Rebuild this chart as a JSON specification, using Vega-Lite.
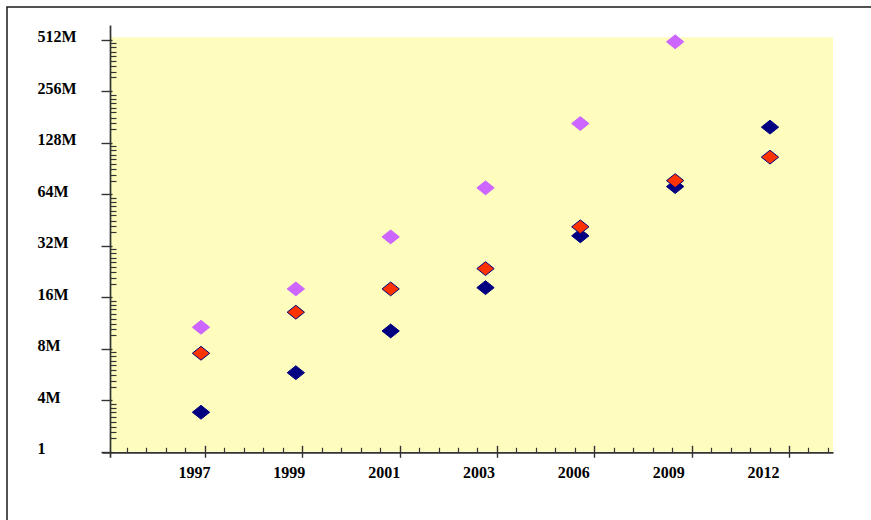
{
  "$schema": "https://vega.github.io/schema/vega-lite/v6.json",
  "width": 864,
  "height": 513,
  "autosize": {"type": "none"},
  "padding": {"left": 7, "top": 7, "right": 0, "bottom": 0},
  "background": "white",
  "config": {
    "view": {"stroke": "#1a1a1a", "strokeWidth": 1.5, "strokeDash": [864, 1377, 513], "fill": "white"},
    "axis": {
      "grid": false, "title": null, "zindex": 2,
      "labelFont": "Liberation Serif", "labelFontWeight": "bold", "labelFontSize": 16, "labelColor": "black",
      "tickColor": "#333333", "domainColor": "#333333", "domainWidth": 1.7, "tickWidth": 1.4,
      "labelOverlap": false, "labelBound": false, "labelFlush": false
    }
  },
  "datasets": {
    "points": [
      {"year": 1997, "series": "Series 3", "value": 3.40},
      {"year": 1999, "series": "Series 3", "value": 5.79},
      {"year": 2001, "series": "Series 3", "value": 10.15},
      {"year": 2003, "series": "Series 3", "value": 18.18},
      {"year": 2006, "series": "Series 3", "value": 36.5},
      {"year": 2009, "series": "Series 3", "value": 70.8},
      {"year": 2012, "series": "Series 3", "value": 157.5},
      {"year": 1997, "series": "Series 2", "value": 7.52},
      {"year": 1999, "series": "Series 2", "value": 13.06},
      {"year": 2001, "series": "Series 2", "value": 17.87},
      {"year": 2003, "series": "Series 2", "value": 23.48},
      {"year": 2006, "series": "Series 2", "value": 41.2},
      {"year": 2009, "series": "Series 2", "value": 76.7},
      {"year": 2012, "series": "Series 2", "value": 105.2},
      {"year": 1997, "series": "Series 1", "value": 10.67},
      {"year": 1999, "series": "Series 1", "value": 17.87},
      {"year": 2001, "series": "Series 1", "value": 35.98},
      {"year": 2003, "series": "Series 1", "value": 69.6},
      {"year": 2006, "series": "Series 1", "value": 165.3},
      {"year": 2009, "series": "Series 1", "value": 496.4}
    ]
  },
  "resolve": {"scale": {"x": "independent"}, "axis": {"x": "independent", "y": "independent"}},
  "layer": [
    {
      "data": {"values": [{}]},
      "mark": {"type": "rect", "fill": "#FEFDBD"},
      "encoding": {
        "x": {
          "datum": -0.976, "type": "quantitative",
          "scale": {"type": "linear", "domain": [-1.06, 6.452], "range": [94.7, 826], "nice": false, "zero": false},
          "axis": {"orient": "bottom", "offset": -67.7, "zindex": 2, "values": [0, 1, 2, 3, 4, 5, 6], "labels": false, "ticks": true, "tickSize": 5, "domain": true}
        },
        "x2": {"datum": 6.452},
        "y": {
          "datum": 2, "type": "quantitative",
          "scale": {"type": "log", "base": 2, "domain": [1.855, 622.3], "range": [450.3, 18], "nice": false},
          "axis": {
            "orient": "left", "offset": -103, "zindex": 2, "values": [2, 4, 8, 16, 32, 64, 128, 256, 512],
            "tickSize": 9, "domain": true, "labels": true,
            "labelExpr": "datum.value == 2 ? '1' : datum.value + 'M'",
            "labelAlign": "left", "labelPadding": 64, "labelOffset": -3, "labelBaseline": "middle"
          }
        },
        "y2": {"datum": 527}
      }
    },
    {
      "data": {"values": [{}]},
      "mark": {"type": "rect", "opacity": 0},
      "encoding": {
        "x": {
          "datum": -0.976, "type": "quantitative",
          "scale": {"type": "linear", "domain": [-1.06, 6.452], "range": [94.7, 826], "nice": false, "zero": false},
          "axis": {"orient": "bottom", "offset": -67.7, "zindex": 3, "values": [0, 1, 2, 3, 4, 5, 6], "labels": false, "ticks": true, "tickSize": -7, "domain": false}
        },
        "x2": {"datum": 6.452},
        "y": {
          "datum": 2, "type": "quantitative",
          "scale": {"type": "log", "base": 2, "domain": [1.855, 622.3], "range": [450.3, 18], "nice": false},
          "axis": {
            "orient": "left", "offset": -103, "zindex": 3,
            "values": [2.4, 2.6, 2.8, 3.0, 3.2, 3.4, 3.6, 3.8,
                       4.8, 5.2, 5.6, 6.0, 6.4, 6.8, 7.2, 7.6,
                       9.6, 10.4, 11.2, 12, 12.8, 13.6, 14.4, 15.2,
                       19.2, 20.8, 22.4, 24, 25.6, 27.2, 28.8, 30.4,
                       38.4, 41.6, 44.8, 48, 51.2, 54.4, 57.6, 60.8,
                       76.8, 83.2, 89.6, 96, 102.4, 108.8, 115.2, 121.6,
                       153.6, 166.4, 179.2, 192, 204.8, 217.6, 230.4, 243.2,
                       307.2, 332.8, 358.4, 384, 409.6, 435.2, 460.8, 486.4],
            "tickSize": -6, "tickWidth": 1.2, "labels": false, "domain": false
          }
        },
        "y2": {"datum": 527}
      }
    },
    {
      "data": {"values": [{}]},
      "mark": {"type": "rect", "opacity": 0},
      "encoding": {
        "x": {
          "datum": -0.976, "type": "quantitative",
          "scale": {"type": "linear", "domain": [-1.06, 6.452], "range": [94.7, 826], "nice": false, "zero": false},
          "axis": {
            "orient": "bottom", "offset": -67.7, "zindex": 3,
            "values": [-0.8, -0.6, -0.4, -0.2, 0.2, 0.4, 0.6, 0.8, 1.2, 1.4, 1.6, 1.8, 2.2, 2.4, 2.6, 2.8,
                       3.2, 3.4, 3.6, 3.8, 4.2, 4.4, 4.6, 4.8, 5.2, 5.4, 5.6, 5.8, 6.2, 6.4],
            "labels": false, "ticks": true, "tickSize": -5, "tickWidth": 1.2, "domain": false
          }
        },
        "x2": {"datum": 6.452},
        "y": {
          "datum": 2, "type": "quantitative",
          "scale": {"type": "log", "base": 2, "domain": [1.855, 622.3], "range": [450.3, 18], "nice": false},
          "axis": {"orient": "left", "offset": -103, "zindex": 3, "values": [2, 4, 8, 16, 32, 64, 128, 256, 512], "tickSize": -2, "labels": false, "domain": false}
        },
        "y2": {"datum": 527}
      }
    },
    {
      "data": {"name": "points"},
      "mark": {"type": "point", "shape": "M -1 0 L 0 -0.8 L 1 0 L 0 0.8 Z", "size": 300, "filled": true, "opacity": 1, "strokeWidth": 1},
      "encoding": {
        "x": {
          "field": "year", "type": "ordinal",
          "scale": {"type": "point", "range": [194, 763], "padding": 0},
          "axis": {
            "orient": "bottom", "offset": -67.7, "zindex": 2, "ticks": false, "tickSize": 0, "domain": false,
            "labelAngle": 0, "labelPadding": 25, "labelBaseline": "alphabetic", "labelOffset": -7
          }
        },
        "y": {
          "field": "value", "type": "quantitative",
          "scale": {"type": "log", "base": 2, "domain": [1.855, 622.3], "range": [450.3, 18], "nice": false},
          "axis": null
        },
        "fill": {
          "field": "series", "type": "nominal",
          "scale": {"domain": ["Series 1", "Series 2", "Series 3"], "range": ["#CC66FF", "#FF3300", "#000080"]},
          "legend": null
        },
        "stroke": {
          "field": "series", "type": "nominal",
          "scale": {"domain": ["Series 1", "Series 2", "Series 3"], "range": ["#CC66FF", "#000080", "#000080"]},
          "legend": null
        }
      }
    }
  ]
}
